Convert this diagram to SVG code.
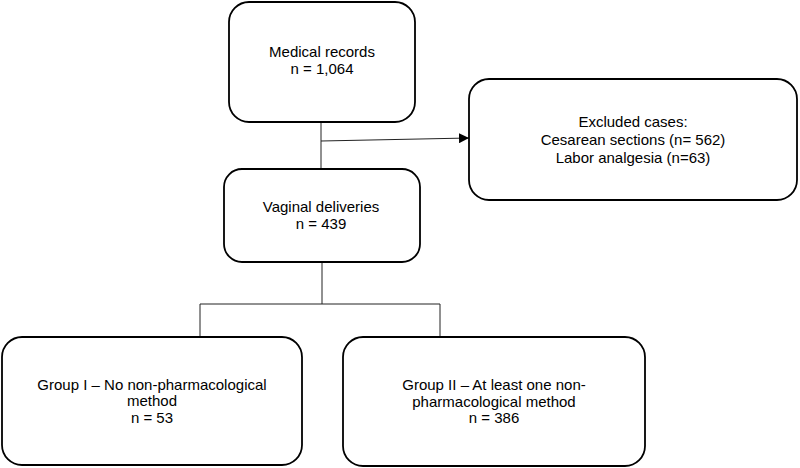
<svg xmlns="http://www.w3.org/2000/svg" width="800" height="468" viewBox="0 0 800 468">
<defs>
<style>
.box{fill:#fff;stroke:#000;stroke-width:1.8}
.ln{fill:none;stroke:#222;stroke-width:1}
text{font-family:"Liberation Sans",Arial,sans-serif;font-size:15px;fill:#000;text-anchor:middle}
</style>
<marker id="arr" viewBox="0 0 10 10" refX="10" refY="5" markerWidth="10" markerHeight="10" markerUnits="userSpaceOnUse" orient="auto">
<path d="M0,0 L10,5 L0,10 z" fill="#000"/>
</marker>
</defs>
<rect width="800" height="468" fill="#fff"/>
<g id="connectors">
<line class="ln" x1="321" y1="122" x2="321" y2="169"/>
<line class="ln" x1="321" y1="141" x2="469" y2="138" marker-end="url(#arr)"/>
<line class="ln" x1="322" y1="262" x2="322" y2="304"/>
<polyline class="ln" points="200,338 200,304 440,304 440,338"/>
</g>
<g id="medical-records">
<rect class="box" x="229" y="2" width="186" height="120" rx="20"/>
<text x="322" y="57">Medical records</text>
<text x="322" y="74">n = 1,064</text>
</g>
<g id="excluded">
<rect class="box" x="469" y="79" width="328" height="121" rx="20"/>
<text x="633" y="127">Excluded cases:</text>
<text x="633" y="145">Cesarean sections (n= 562)</text>
<text x="633" y="163">Labor analgesia (n=63)</text>
</g>
<g id="vaginal">
<rect class="box" x="224" y="169" width="196" height="93" rx="18"/>
<text x="321" y="212">Vaginal deliveries</text>
<text x="321" y="229">n = 439</text>
</g>
<g id="group1">
<rect class="box" x="2" y="337" width="300" height="128" rx="20"/>
<text x="152" y="390">Group I – No non-pharmacological</text>
<text x="152" y="406">method</text>
<text x="152" y="423">n = 53</text>
</g>
<g id="group2">
<rect class="box" x="343" y="337" width="302" height="129" rx="20"/>
<text x="494" y="390">Group II – At least one non-</text>
<text x="494" y="407">pharmacological method</text>
<text x="494" y="423">n = 386</text>
</g>
</svg>
